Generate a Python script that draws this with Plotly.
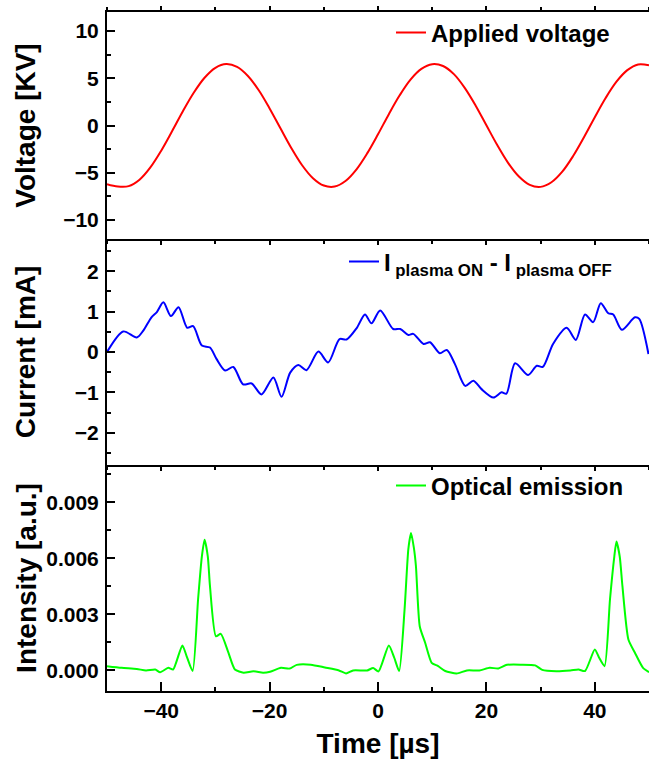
import plotly.graph_objects as go

# ---------------- data ----------------
time_v = [-50, -48, -46, -44, -42, -40, -38, -36, -34, -32, -30, -28, -26, -24, -22, -20,
          -18, -16, -14, -12, -10, -8, -6, -4, -2, 0, 2, 4, 6, 8, 10, 12, 14, 16, 18, 20,
          22, 24, 26, 28, 30, 32, 34, 36, 38, 40, 42, 44, 46, 48, 50]
voltage = [-6.2, -6.45, -6.41, -5.73, -4.43, -2.66, -0.61, 1.51, 3.46, 5.05, 6.10, 6.50,
           6.20, 5.24, 3.73, 1.81, -0.29, -2.37, -4.20, -5.57, -6.35, -6.46, -5.87, -4.66,
           -2.95, -0.93, 1.20, 3.19, 4.85, 5.98, 6.48, 6.29, 5.43, 3.98, 2.12, 0.02, -2.07,
           -3.95, -5.40, -6.28, -6.49, -6.00, -4.88, -3.23, -1.24, 0.88, 2.91, 4.63, 5.85,
           6.45, 6.36]

time_i = [-50, -47.0, -44.5, -43.3, -41.8, -40.8, -39.6, -38.2, -36.8, -35.2, -34.1, -32.5,
          -31.0, -29.8, -28.2, -26.7, -24.9, -23.3, -21.5, -19.3, -17.8, -16.2, -14.7, -13.2,
          -11.0, -9.2, -7.1, -5.8, -3.9, -2.4, -1.2, 0.4, 2.8, 4.1, 5.6, 6.5, 8.4, 9.6, 11.4,
          12.7, 14.2, 16.1, 17.6, 19.1, 21.3, 22.8, 23.7, 25.3, 27.7, 29.3, 30.4, 32.3, 34.8,
          36.5, 38.2, 39.7, 41.1, 42.5, 43.4, 45.0, 47.4, 48.2, 49.9]
current = [0.0, 0.51, 0.36, 0.53, 0.86, 0.99, 1.23, 0.89, 1.11, 0.60, 0.64, 0.16,
           0.11, -0.17, -0.46, -0.37, -0.80, -0.78, -1.05, -0.63, -1.11, -0.51, -0.32, -0.45,
           0.01, -0.26, 0.32, 0.31, 0.60, 0.93, 0.71, 1.03, 0.57, 0.57, 0.42, 0.45, 0.20, 0.24,
           -0.03, 0.05, -0.30, -0.84, -0.71, -0.92, -1.13, -1.00, -1.03, -0.28, -0.57, -0.34,
           -0.37, 0.20, 0.60, 0.30, 0.93, 0.74, 1.21, 0.96, 0.93, 0.55, 0.86, 0.82, -0.05]

time_e = [-50, -47.3, -44.5, -42.8, -41.1, -40.2, -38.7, -37.8, -36.1, -35.3, -34.2, -33.2,
          -32.5, -32.0, -31.4, -31.0, -29.9, -29.0, -27.6, -26.4, -24.8, -23.0, -21.2, -19.9,
          -17.9, -16.3, -15.0, -12.4, -9.8, -7.2, -5.9, -4.6, -2.0, -0.9, 0.1, 2.0, 3.0, 3.9,
          4.9, 5.6, 6.1, 6.6, 7.0, 7.7, 8.7, 9.9, 11.1, 12.4, 14.5, 16.4, 18.7, 20.6, 22.2,
          23.8, 26.4, 29.0, 30.3, 32.9, 35.5, 37.0, 38.2, 40.0, 40.8, 41.8, 42.8, 43.6, 44.0,
          44.6, 45.1, 46.2, 47.4, 48.9, 50]
emission = [0.00023, 0.00014, 0.00008, 0.0, 0.00005, -0.0001, 0.00014, 0.00005, 0.00134,
            0.00076, -0.00003, 0.0038, 0.0061, 0.0070, 0.0061, 0.00451, 0.00183, 0.00196,
            0.00095, 0.00005, -0.00012, -0.00004, -0.00012, -0.00007, 0.00014, 0.0001,
            0.0003, 0.00031, 0.00016, 0.0, -0.00016, 0.0, 0.0, 0.00013, -0.00005, 0.00134,
            0.00068, -0.00003, 0.00326, 0.0065, 0.00736, 0.0066, 0.00558, 0.00237, 0.00148,
            0.00041, 0.00023, -0.00003, -0.00016, 0.0, 0.0, 0.00014, 0.00011, 0.0003,
            0.00031, 0.00027, 0.00003, -0.00004, 0.0, 0.00005, -0.00003, 0.00112, 0.00068,
            0.00023, 0.0038, 0.0061, 0.0069, 0.0061, 0.00451, 0.00166, 0.00095, 0.00014,
            -0.00009]

names = ["Applied voltage",
         "I<sub> plasma ON</sub> - I<sub> plasma OFF</sub>",
         "Optical emission"]
y_titles = ["Voltage [KV]", "Current [mA]", "Intensity [a.u.]"]
x_title = "Time [\u00b5s]"
x_ticks = [-40, -20, 0, 20, 40]

# ---------------- figure ----------------
FONT = "Liberation Sans, Arial, sans-serif"
W, H = 649, 759
ml, mr, mt, mb = 107, 0, 12, 68
ph = H - mt - mb
pw = W - ml - mr

def py(px):  # pixel y -> paper y
    return 1 - (px - mt) / ph

def pxx(px):  # pixel x -> paper x
    return (px - ml) / pw

d_top = [py(239), 1.0]
d_mid = [py(465), py(239)]
d_bot = [0.0, py(465)]

fig = go.Figure()
fig.add_trace(go.Scatter(x=time_v, y=voltage, mode="lines", name=names[0],
                         line=dict(color="#FF0000", width=2, shape="spline", smoothing=1.0),
                         xaxis="x", yaxis="y", legend="legend"))
fig.add_trace(go.Scatter(x=time_i, y=current, mode="lines", name=names[1],
                         line=dict(color="#0000FF", width=2, shape="spline", smoothing=0.8),
                         xaxis="x2", yaxis="y2", legend="legend2"))
fig.add_trace(go.Scatter(x=time_e, y=emission, mode="lines", name=names[2],
                         line=dict(color="#00FF00", width=2, shape="spline", smoothing=0.6),
                         xaxis="x3", yaxis="y3", legend="legend3"))

tickfont = dict(family=FONT, size=21, color="black", weight="bold")
titlefont = dict(family=FONT, size=28, color="black", weight="bold")

common_x = dict(range=[-50, 50], tickvals=x_ticks, showline=True, linewidth=2,
                linecolor="black", showgrid=False, zeroline=False)
fig.update_layout(
    xaxis=dict(**common_x, anchor="y", domain=[0, 1], showticklabels=False,
               ticks="outside", ticklen=4, tickwidth=1.5, tickcolor="black", mirror="ticks",
               minor=dict(dtick=10, tick0=0, ticks="outside", ticklen=3, tickcolor="black")),
    xaxis2=dict(**common_x, anchor="y2", domain=[0, 1], showticklabels=False, matches="x",
                ticks="outside", ticklen=4, tickwidth=1.5, tickcolor="black",
                minor=dict(dtick=10, tick0=0, ticks="outside", ticklen=3, tickcolor="black")),
    xaxis3=dict(**common_x, anchor="y3", domain=[0, 1], matches="x",
                ticks="inside", ticklen=9, tickwidth=2, tickcolor="black",
                minor=dict(dtick=10, tick0=0, ticks="inside", ticklen=4, tickcolor="black"),
                tickfont=tickfont, ticklabelstandoff=0,
                title=dict(text=x_title, font=titlefont, standoff=13)),
)

def yax(anchor, domain, rng, tickvals, minor_dtick, title, standoff, fmt=None):
    d = dict(showline=True, linewidth=2, linecolor="black", showgrid=False, zeroline=False,
             ticks="inside", ticklen=8, tickwidth=2, tickcolor="black",
             tickfont=tickfont, ticklabelstandoff=2, anchor=anchor,
             domain=domain, range=rng, tickvals=tickvals,
             minor=dict(dtick=minor_dtick, tick0=0, ticks="inside", ticklen=4,
                        tickcolor="black"),
             title=dict(text=title, font=titlefont, standoff=standoff))
    if fmt:
        d["tickformat"] = fmt
    return d

fig.update_layout(
    yaxis=yax("x", d_top, [-12, 12], [-10, -5, 0, 5, 10], 2.5, y_titles[0], 19),
    yaxis2=yax("x2", d_mid, [-2.8, 2.8], [-2, -1, 0, 1, 2], 0.5, y_titles[1], 31),
    yaxis3=yax("x3", d_bot, [-0.0011, 0.011], [0.0, 0.003, 0.006, 0.009], 0.0015,
               y_titles[2], 1, ".3f"),
)

legfont = dict(family=FONT, size=24, color="black", weight="bold")
leg_common = dict(font=legfont, bgcolor="rgba(0,0,0,0)", borderwidth=0,
                  xanchor="left", yanchor="middle", itemwidth=30)
fig.update_layout(
    legend=dict(**leg_common, x=pxx(391), y=py(33)),
    legend2=dict(**leg_common, x=pxx(344), y=py(262)),
    legend3=dict(**leg_common, x=pxx(391), y=py(486)),
    showlegend=True,
    width=W, height=H,
    margin=dict(l=ml, r=mr, t=mt, b=mb, autoexpand=False),
    paper_bgcolor="white", plot_bgcolor="white",
    font=dict(family=FONT, color="black"),
)

fig.write_html("out.html", config={"displayModeBar": False})
